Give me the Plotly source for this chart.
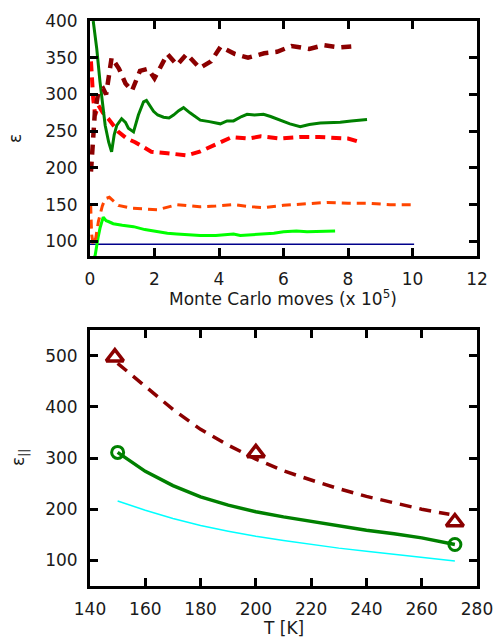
import plotly.graph_objects as go

# ---------------- top panel data (Monte Carlo moves, x 1e5) ----------------
darkred_x = [0.03, 0.08, 0.15, 0.26, 0.41, 0.5, 0.6, 0.67, 0.9, 1.1, 1.3, 1.55, 1.8, 2.0, 2.4, 2.7, 3.0, 3.4, 3.75, 4.05, 4.5, 4.9, 5.4, 5.8, 6.25, 6.8, 7.25, 7.75, 8.3]
darkred_y = [195, 240, 275, 303, 308, 300, 330, 350, 335, 315, 305, 332, 335, 322, 355, 340, 355, 336, 345, 365, 355, 350, 356, 358, 366, 362, 367, 364, 366]

red_x = [0.03, 0.06, 0.1, 0.16, 0.26, 0.4, 0.57, 0.88, 1.14, 1.4, 1.66, 1.9, 2.4, 3.0, 3.4, 3.9, 4.4, 4.9, 5.3, 5.9, 6.5, 7.1, 7.6, 8.0, 8.3]
red_y = [345, 320, 294, 272, 285, 275, 267, 249, 240, 235, 229, 222, 220, 217, 222, 232, 242, 240, 243, 240, 242, 242, 241, 240, 236]

green_x = [0.1, 0.21, 0.31, 0.47, 0.58, 0.67, 0.75, 0.83, 0.98, 1.1, 1.19, 1.35, 1.5, 1.66, 1.75, 1.97, 2.1, 2.28, 2.45, 2.59, 2.75, 2.9, 3.1, 3.42, 3.7, 4.04, 4.25, 4.45, 4.7, 4.87, 5.1, 5.38, 5.6, 5.9, 6.2, 6.52, 6.8, 7.14, 7.4, 7.76, 8.1, 8.59]
green_y = [400, 362, 317, 258, 235, 222, 245, 258, 267, 262, 254, 249, 272, 290, 292, 277, 272, 269, 268, 272, 278, 282, 275, 265, 263, 260, 264, 264, 270, 273, 272, 273, 270, 265, 260, 256, 259, 261, 261, 262, 264, 266]

orange_x = [0.02, 0.05, 0.1, 0.18, 0.26, 0.38, 0.47, 0.6, 0.88, 1.3, 1.7, 2.1, 2.7, 3.4, 3.9, 4.45, 5.0, 5.4, 6.0, 6.7, 7.35, 8.0, 8.6, 9.3, 10.0]
orange_y = [150, 110, 95, 105, 127, 148, 158, 160, 149, 145, 144, 143, 150, 147, 148, 150, 147, 146, 149, 151, 153, 152, 152, 150, 150]

lime_x = [0.1, 0.16, 0.25, 0.31, 0.41, 0.5, 0.57, 0.72, 1.0, 1.35, 1.7, 2.07, 2.4, 2.69, 3.0, 3.42, 3.9, 4.45, 4.66, 5.28, 5.7, 6.0, 6.4, 6.73, 7.2, 7.6]
lime_y = [75, 81, 105, 118, 133, 128, 127, 124, 122, 120, 116, 113, 111, 110, 109, 108, 108, 110, 108, 110, 111, 113, 114, 113, 113, 114]

navy_x = [0.0, 10.05]
navy_y = [96, 96]

# ---------------- bottom panel data (T in K) ----------------
fitA_T = [150, 160, 170, 180, 190, 200, 210, 220, 230, 240, 250, 260, 270]
fitA_e = [485, 440, 395, 356, 325, 298, 275, 257, 240, 225, 212, 200, 190]
triA_T = [149, 200, 272]
triA_e = [497, 310, 175]

fitB_T = [150, 160, 170, 180, 190, 200, 210, 220, 230, 240, 250, 260, 272]
fitB_e = [311, 274, 246, 224, 208, 195, 185, 176, 167, 159, 152, 144, 131]
circB_T = [150, 272]
circB_e = [311, 131]

cyan_T = [150, 160, 170, 180, 190, 200, 210, 220, 230, 240, 250, 260, 272]
cyan_e = [216, 198, 182, 168, 157, 147, 139, 131, 124, 118, 112, 106, 99]

FONT = "DejaVu Sans"
TXT = "#1a1a1a"

fig = go.Figure()

def line(x, y, color, width, dash="solid", xa="x", ya="y"):
    fig.add_trace(go.Scatter(x=x, y=y, mode="lines", xaxis=xa, yaxis=ya,
                             line=dict(color=color, width=width, dash=dash),
                             showlegend=False, hoverinfo="skip"))

line(navy_x, navy_y, "#00008B", 1.5)
line(lime_x, lime_y, "#00FF00", 3)
line(orange_x, orange_y, "#FF4500", 3, "9px,6px")
line(red_x, red_y, "#FF0000", 4, "10px,6px")
line(green_x, green_y, "#008000", 3)
line(darkred_x, darkred_y, "#8B0000", 4.5, "10px,7px")

line(cyan_T, cyan_e, "#00FFFF", 1.5, xa="x2", ya="y2")
line(fitB_T, fitB_e, "#008000", 3.5, xa="x2", ya="y2")
line(fitA_T, fitA_e, "#8B0000", 3.5, "12px,8px", xa="x2", ya="y2")
fig.add_trace(go.Scatter(x=triA_T, y=triA_e, mode="markers", xaxis="x2", yaxis="y2",
                         marker=dict(symbol="triangle-up-open", size=15, color="#8B0000",
                                     line=dict(width=3.5, color="#8B0000")),
                         showlegend=False, hoverinfo="skip"))
fig.add_trace(go.Scatter(x=circB_T, y=circB_e, mode="markers", xaxis="x2", yaxis="y2",
                         marker=dict(symbol="circle-open", size=12, color="#008000",
                                     line=dict(width=3, color="#008000")),
                         showlegend=False, hoverinfo="skip"))

axis_common = dict(showline=True, linecolor="black", linewidth=3, mirror="ticks",
                   ticks="inside", ticklen=8, tickwidth=2.5, tickcolor="black",
                   showgrid=False, zeroline=False, automargin=False,
                   ticklabeloverflow="allow",
                   tickfont=dict(family=FONT, size=17, color=TXT))

fig.update_layout(
    width=493, height=639,
    margin=dict(l=90, r=16, t=21, b=53, autoexpand=False),
    paper_bgcolor="white", plot_bgcolor="white",
    font=dict(family=FONT, size=17, color=TXT),
    xaxis=dict(domain=[0, 1], range=[0, 12], tickvals=[0, 2, 4, 6, 8, 10, 12],
               anchor="y", ticklabelstandoff=6, **axis_common),
    yaxis=dict(domain=[0.584, 1], range=[80, 400],
               tickvals=[100, 150, 200, 250, 300, 350, 400], anchor="x",
               ticklabelstandoff=6, **axis_common),
    xaxis2=dict(domain=[0, 1], range=[140, 280],
                tickvals=[140, 160, 180, 200, 220, 240, 260, 280],
                anchor="y2", ticklabelstandoff=6, **axis_common),
    yaxis2=dict(domain=[0, 0.453], range=[50, 550],
                tickvals=[100, 200, 300, 400, 500], anchor="x2",
                ticklabelstandoff=6, **axis_common),
)

W = 387.0
H = 565.0
def ann(text, px, py, angle=0):
    fig.add_annotation(text=text, xref="paper", yref="paper", textangle=angle,
                       x=(px - 90) / W, y=1 - (py - 21) / H, showarrow=False,
                       xanchor="center", yanchor="middle",
                       font=dict(family=FONT, size=17, color=TXT))

ann("Monte Carlo moves (x 10<sup>5</sup>)", 283, 298)
ann("T [K]", 283, 628)
ann("ε", 15, 139, -90)
ann("ε<sub>||</sub>", 19, 458, -90)

fig.write_html("out.html", config={"displayModeBar": False},
               post_script="document.body.style.margin='0';document.body.style.padding='0';")
